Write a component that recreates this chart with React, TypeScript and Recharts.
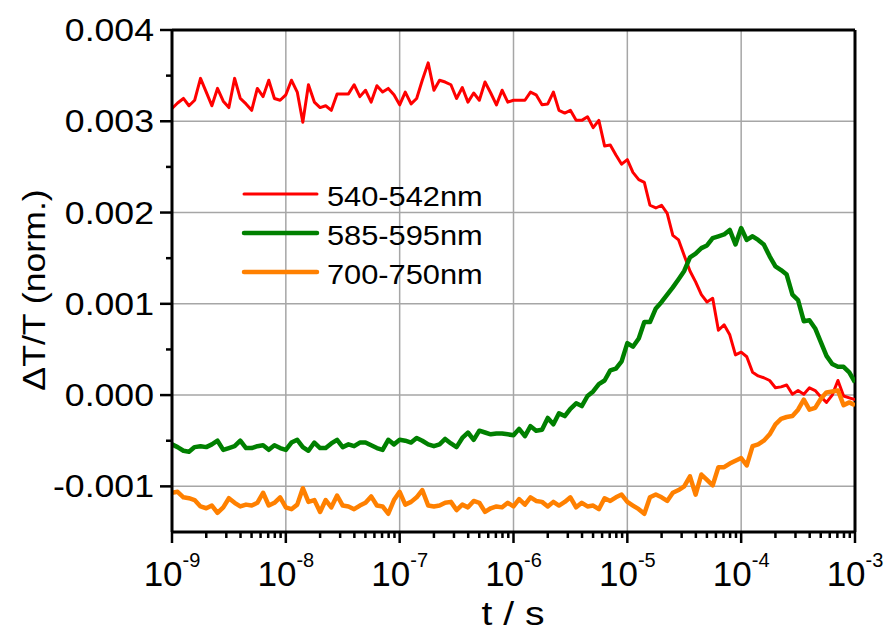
import { LineChart, Line, XAxis, YAxis, CartesianGrid, ReferenceLine, Legend, Label } from 'recharts'

// time points (s), 20 per decade
const times = [
  1.00e-9, 1.12e-9, 1.26e-9, 1.41e-9, 1.58e-9, 1.78e-9, 2.00e-9, 2.24e-9, 2.51e-9, 2.82e-9,
  3.16e-9, 3.55e-9, 3.98e-9, 4.47e-9, 5.01e-9, 5.62e-9, 6.31e-9, 7.08e-9, 7.94e-9, 8.91e-9,
  1.00e-8, 1.12e-8, 1.26e-8, 1.41e-8, 1.58e-8, 1.78e-8, 2.00e-8, 2.24e-8, 2.51e-8, 2.82e-8,
  3.16e-8, 3.55e-8, 3.98e-8, 4.47e-8, 5.01e-8, 5.62e-8, 6.31e-8, 7.08e-8, 7.94e-8, 8.91e-8,
  1.00e-7, 1.12e-7, 1.26e-7, 1.41e-7, 1.58e-7, 1.78e-7, 2.00e-7, 2.24e-7, 2.51e-7, 2.82e-7,
  3.16e-7, 3.55e-7, 3.98e-7, 4.47e-7, 5.01e-7, 5.62e-7, 6.31e-7, 7.08e-7, 7.94e-7, 8.91e-7,
  1.00e-6, 1.12e-6, 1.26e-6, 1.41e-6, 1.58e-6, 1.78e-6, 2.00e-6, 2.24e-6, 2.51e-6, 2.82e-6,
  3.16e-6, 3.55e-6, 3.98e-6, 4.47e-6, 5.01e-6, 5.62e-6, 6.31e-6, 7.08e-6, 7.94e-6, 8.91e-6,
  1.00e-5, 1.12e-5, 1.26e-5, 1.41e-5, 1.58e-5, 1.78e-5, 2.00e-5, 2.24e-5, 2.51e-5, 2.82e-5,
  3.16e-5, 3.55e-5, 3.98e-5, 4.47e-5, 5.01e-5, 5.62e-5, 6.31e-5, 7.08e-5, 7.94e-5, 8.91e-5,
  1.00e-4, 1.12e-4, 1.26e-4, 1.41e-4, 1.58e-4, 1.78e-4, 2.00e-4, 2.24e-4, 2.51e-4, 2.82e-4,
  3.16e-4, 3.55e-4, 3.98e-4, 4.47e-4, 5.01e-4, 5.62e-4, 6.31e-4, 7.08e-4, 7.94e-4, 8.91e-4,
  1.00e-3,
]

const red540 = [
  3.14e-3, 3.20e-3, 3.25e-3, 3.17e-3, 3.23e-3, 3.47e-3, 3.32e-3, 3.17e-3, 3.36e-3, 3.22e-3,
  3.15e-3, 3.47e-3, 3.25e-3, 3.19e-3, 3.12e-3, 3.36e-3, 3.27e-3, 3.45e-3, 3.25e-3, 3.23e-3,
  3.29e-3, 3.45e-3, 3.32e-3, 2.99e-3, 3.40e-3, 3.21e-3, 3.15e-3, 3.17e-3, 3.12e-3, 3.30e-3,
  3.30e-3, 3.30e-3, 3.40e-3, 3.27e-3, 3.34e-3, 3.21e-3, 3.39e-3, 3.32e-3, 3.36e-3, 3.29e-3,
  3.18e-3, 3.32e-3, 3.19e-3, 3.25e-3, 3.45e-3, 3.64e-3, 3.34e-3, 3.45e-3, 3.43e-3, 3.40e-3,
  3.25e-3, 3.37e-3, 3.21e-3, 3.31e-3, 3.23e-3, 3.43e-3, 3.31e-3, 3.18e-3, 3.34e-3, 3.21e-3,
  3.23e-3, 3.23e-3, 3.23e-3, 3.32e-3, 3.29e-3, 3.18e-3, 3.19e-3, 3.32e-3, 3.12e-3, 3.09e-3,
  3.12e-3, 3.01e-3, 3.01e-3, 3.05e-3, 2.93e-3, 3.01e-3, 2.73e-3, 2.74e-3, 2.63e-3, 2.53e-3,
  2.58e-3, 2.44e-3, 2.36e-3, 2.33e-3, 2.08e-3, 2.05e-3, 2.08e-3, 1.99e-3, 1.75e-3, 1.70e-3,
  1.53e-3, 1.36e-3, 1.24e-3, 1.10e-3, 1.02e-3, 1.06e-3, 0.71e-3, 0.77e-3, 0.66e-3, 0.44e-3,
  0.47e-3, 0.42e-3, 0.25e-3, 0.21e-3, 0.19e-3, 0.16e-3, 0.08e-3, 0.09e-3, 0.11e-3, 0.01e-3,
  0.05e-3, 0.01e-3, 0.08e-3, 0.05e-3, -0.02e-3, -0.08e-3, 0.00e-3, 0.16e-3, -0.01e-3, -0.03e-3,
  -0.05e-3,
]

const green585 = [
  -0.54e-3, -0.57e-3, -0.61e-3, -0.62e-3, -0.57e-3, -0.56e-3, -0.57e-3, -0.54e-3, -0.50e-3, -0.60e-3,
  -0.58e-3, -0.56e-3, -0.50e-3, -0.58e-3, -0.58e-3, -0.56e-3, -0.55e-3, -0.60e-3, -0.55e-3, -0.58e-3,
  -0.60e-3, -0.52e-3, -0.49e-3, -0.57e-3, -0.61e-3, -0.52e-3, -0.58e-3, -0.58e-3, -0.53e-3, -0.49e-3,
  -0.57e-3, -0.54e-3, -0.56e-3, -0.52e-3, -0.52e-3, -0.55e-3, -0.58e-3, -0.60e-3, -0.49e-3, -0.54e-3,
  -0.49e-3, -0.50e-3, -0.52e-3, -0.47e-3, -0.50e-3, -0.54e-3, -0.56e-3, -0.54e-3, -0.48e-3, -0.53e-3,
  -0.57e-3, -0.47e-3, -0.41e-3, -0.49e-3, -0.39e-3, -0.41e-3, -0.43e-3, -0.42e-3, -0.42e-3, -0.43e-3,
  -0.44e-3, -0.37e-3, -0.45e-3, -0.34e-3, -0.39e-3, -0.38e-3, -0.25e-3, -0.32e-3, -0.20e-3, -0.23e-3,
  -0.15e-3, -0.09e-3, -0.12e-3, -0.01e-3, 0.04e-3, 0.12e-3, 0.16e-3, 0.27e-3, 0.29e-3, 0.37e-3,
  0.57e-3, 0.53e-3, 0.62e-3, 0.80e-3, 0.80e-3, 0.95e-3, 1.02e-3, 1.10e-3, 1.18e-3, 1.27e-3,
  1.36e-3, 1.51e-3, 1.55e-3, 1.61e-3, 1.64e-3, 1.72e-3, 1.74e-3, 1.76e-3, 1.81e-3, 1.65e-3,
  1.83e-3, 1.70e-3, 1.74e-3, 1.70e-3, 1.65e-3, 1.52e-3, 1.41e-3, 1.37e-3, 1.32e-3, 1.10e-3,
  1.04e-3, 0.81e-3, 0.82e-3, 0.73e-3, 0.58e-3, 0.43e-3, 0.34e-3, 0.31e-3, 0.31e-3, 0.25e-3,
  0.14e-3,
]

const orange700 = [
  -1.07e-3, -1.06e-3, -1.12e-3, -1.13e-3, -1.15e-3, -1.22e-3, -1.24e-3, -1.21e-3, -1.29e-3, -1.23e-3,
  -1.13e-3, -1.18e-3, -1.22e-3, -1.20e-3, -1.21e-3, -1.18e-3, -1.07e-3, -1.21e-3, -1.18e-3, -1.12e-3,
  -1.23e-3, -1.25e-3, -1.20e-3, -1.02e-3, -1.17e-3, -1.15e-3, -1.28e-3, -1.15e-3, -1.23e-3, -1.10e-3,
  -1.21e-3, -1.22e-3, -1.25e-3, -1.21e-3, -1.18e-3, -1.11e-3, -1.21e-3, -1.22e-3, -1.30e-3, -1.15e-3,
  -1.06e-3, -1.20e-3, -1.17e-3, -1.12e-3, -1.04e-3, -1.21e-3, -1.22e-3, -1.21e-3, -1.18e-3, -1.17e-3,
  -1.26e-3, -1.20e-3, -1.23e-3, -1.16e-3, -1.18e-3, -1.28e-3, -1.24e-3, -1.22e-3, -1.23e-3, -1.18e-3,
  -1.22e-3, -1.14e-3, -1.20e-3, -1.12e-3, -1.16e-3, -1.17e-3, -1.22e-3, -1.17e-3, -1.21e-3, -1.17e-3,
  -1.12e-3, -1.23e-3, -1.18e-3, -1.22e-3, -1.21e-3, -1.25e-3, -1.13e-3, -1.16e-3, -1.12e-3, -1.09e-3,
  -1.17e-3, -1.21e-3, -1.25e-3, -1.30e-3, -1.12e-3, -1.09e-3, -1.12e-3, -1.16e-3, -1.07e-3, -1.04e-3,
  -1.00e-3, -0.89e-3, -1.09e-3, -0.87e-3, -0.93e-3, -0.99e-3, -0.79e-3, -0.79e-3, -0.75e-3, -0.72e-3,
  -0.69e-3, -0.77e-3, -0.56e-3, -0.54e-3, -0.50e-3, -0.43e-3, -0.32e-3, -0.26e-3, -0.24e-3, -0.23e-3,
  -0.16e-3, -0.05e-3, -0.16e-3, -0.14e-3, -0.04e-3, 0.03e-3, 0.04e-3, 0.05e-3, -0.11e-3, -0.08e-3,
  -0.11e-3,
]

const seriesNames = ['540-542nm', '585-595nm', '700-750nm']
const seriesColors = ['#ff0000', '#008000', '#ff8000']
const seriesWidths = [3, 4.5, 4.5]

const majorTimes = [1e-9, 1e-8, 1e-7, 1e-6, 1e-5, 1e-4, 1e-3]
const timeExponents = ['-9', '-8', '-7', '-6', '-5', '-4', '-3']
const minorMantissas = [2, 3, 4, 5, 6, 7, 8, 9]
const minorTimes = majorTimes.slice(0, -1).flatMap((d) => minorMantissas.map((m) => m * d))

const majorY = [-0.001, 0, 0.001, 0.002, 0.003, 0.004]
const minorY = [-0.0005, 0.0005, 0.0015, 0.0025, 0.0035]

const data = times.map((t, i) => ({ t, a: red540[i], b: green585[i], c: orange700[i] }))

const FONT = '"Liberation Sans", Arial, sans-serif'

function TimeTick(props: any) {
  const { x, y, payload } = props
  const idx = majorTimes.indexOf(payload.value)
  const major = idx >= 0
  return (
    <g>
      <line x1={x} x2={x} y1={y} y2={y + (major ? 11 : 6)} stroke="#000" strokeWidth={2.5} />
      {major && (
        <text x={x} y={y + 54} textAnchor="middle" fontFamily={FONT} fontSize={35} fill="#000">
          10
          <tspan dy={-19} fontSize={20}>{timeExponents[idx]}</tspan>
        </text>
      )}
    </g>
  )
}

function ValueTick(props: any) {
  const { x, y, payload } = props
  const major = majorY.includes(payload.value)
  return (
    <g>
      <line x1={x - (major ? 12 : 6)} x2={x} y1={y} y2={y} stroke="#000" strokeWidth={2.5} />
      {major && (
        <text
          transform={`translate(${x - 18},${y + 11}) scale(1.15,1)`}
          textAnchor="end"
          fontFamily={FONT}
          fontSize={31}
          fill="#000"
        >
          {payload.value.toFixed(3)}
        </text>
      )}
    </g>
  )
}

function LegendBox() {
  return (
    <svg width={260} height={120}>
      {seriesNames.map((name, i) => (
        <g key={name}>
          <line x1={4} x2={77} y1={24 + i * 39} y2={24 + i * 39} stroke={seriesColors[i]} strokeWidth={seriesWidths[i]} strokeLinecap="round" />
          <text transform={`translate(87,${36 + i * 39}) scale(1.1,1)`} fontFamily={FONT} fontSize={28} fill="#000">
            {name}
          </text>
        </g>
      ))}
    </svg>
  )
}

export default function App() {
  return (
    <div style={{ position: 'absolute', left: 0, top: 0, width: 886, height: 635, background: '#fff' }}>
      <LineChart width={886} height={635} data={data} margin={{ top: 30, right: 31, bottom: 0, left: 0 }}>
        <CartesianGrid
          stroke="#a6a6a6"
          strokeWidth={1.5}
          horizontalValues={[-0.001, 0, 0.001, 0.002, 0.003]}
          verticalValues={[1e-8, 1e-7, 1e-6, 1e-5, 1e-4]}
        />
        <XAxis
          dataKey="t"
          type="number"
          scale="log"
          domain={[1e-9, 1e-3]}
          allowDataOverflow
          ticks={[...majorTimes, ...minorTimes]}
          interval={0}
          tick={<TimeTick />}
          tickLine={false}
          tickSize={0}
          tickMargin={0}
          axisLine={{ stroke: '#000', strokeWidth: 3 }}
          height={103}
        >
          <Label
            content={() => (
              <text transform="translate(513,625) scale(1.15,1)" textAnchor="middle" fontFamily={FONT} fontSize={34} fill="#000">
                t / s
              </text>
            )}
          />
        </XAxis>
        <YAxis
          type="number"
          domain={[-0.0015, 0.004]}
          allowDataOverflow
          ticks={[...majorY, ...minorY]}
          interval={0}
          tick={<ValueTick />}
          tickLine={false}
          tickSize={0}
          tickMargin={0}
          axisLine={{ stroke: '#000', strokeWidth: 3 }}
          width={172}
        >
          <Label
            content={() => (
              <text transform="translate(45,290) rotate(-90) scale(1.15,1)" textAnchor="middle" fontFamily={FONT} fontSize={31} fill="#000">
                ΔT/T (norm.)
              </text>
            )}
          />
        </YAxis>
        <ReferenceLine y={0.004} stroke="#000" strokeWidth={3} />
        <ReferenceLine x={1e-3} stroke="#000" strokeWidth={3} />
        <Line dataKey="a" stroke={seriesColors[0]} strokeWidth={seriesWidths[0]} dot={false} isAnimationActive={false} strokeLinejoin="round" />
        <Line dataKey="b" stroke={seriesColors[1]} strokeWidth={seriesWidths[1]} dot={false} isAnimationActive={false} strokeLinejoin="round" />
        <Line dataKey="c" stroke={seriesColors[2]} strokeWidth={seriesWidths[2]} dot={false} isAnimationActive={false} strokeLinejoin="round" />
        <Legend
          layout="vertical"
          align="center"
          verticalAlign="middle"
          wrapperStyle={{ left: 240, top: 170, width: 260, height: 120 }}
          content={() => <LegendBox />}
        />
      </LineChart>
    </div>
  )
}
